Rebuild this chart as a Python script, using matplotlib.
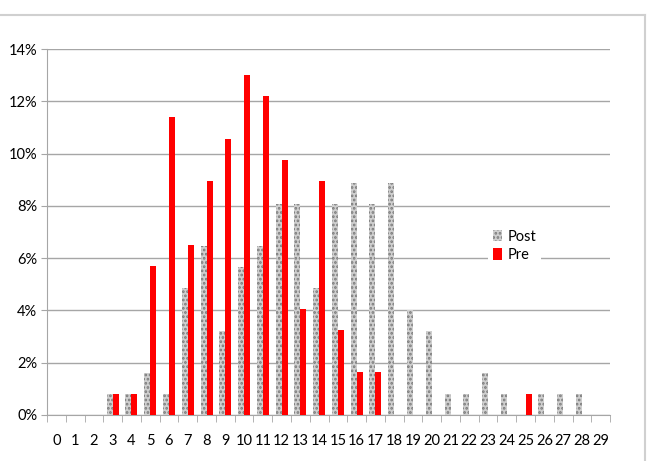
import numpy as np
import matplotlib
matplotlib.use("Agg")
from matplotlib import pyplot as plt
from matplotlib.ticker import PercentFormatter, FixedLocator
from matplotlib.lines import Line2D

# share of respondents per score, in percent
scores = list(range(30))
post = [0, 0, 0, 0.81, 0.81, 1.61, 0.81, 4.84, 6.45, 3.23, 5.65, 6.45, 8.06, 8.06, 4.84,
        8.06, 8.87, 8.06, 8.87, 4.03, 3.23, 0.81, 0.81, 1.61, 0.81, 0, 0.81, 0.81, 0.81, 0]
pre = [0, 0, 0, 0.81, 0.81, 5.69, 11.38, 6.50, 8.94, 10.57, 13.0, 12.20, 9.76, 4.07, 8.94,
       3.25, 1.63, 1.63, 0, 0, 0, 0, 0, 0, 0, 0.81, 0, 0, 0, 0]

plt.rcParams['font.family'] = ['Lato', 'DejaVu Sans']
plt.rcParams['hatch.linewidth'] = 1.3

fig = plt.figure(figsize=(6.49, 4.61), dpi=100)
ax = fig.add_axes([0.0724, 0.0998, 0.8676, 0.7939])

x = np.array(scores)
w = 0.32
ax.bar(x - w / 2, post, w, color='#cfcfcf', edgecolor='#7a7a7a', linewidth=0,
       hatch='....', label='Post', zorder=3)
ax.bar(x + w / 2, pre, w, color='#ff0000', linewidth=0, label='Pre', zorder=3)

ax.set_xlim(-0.5, 29.5)
ax.set_ylim(0, 14)
ax.yaxis.set_major_locator(FixedLocator([0, 2, 4, 6, 8, 10, 12, 14]))
ax.yaxis.set_major_formatter(PercentFormatter(decimals=0))
ax.grid(axis='y', color='#a6a6a6', linewidth=1, zorder=0)

ax.set_xticks(x)
ax.set_xticklabels([str(s) for s in scores])
ax.set_xticks(np.arange(-0.5, 30, 1), minor=True)
ax.tick_params(axis='x', which='major', length=0, pad=14, labelsize=10.5, colors='black')
ax.tick_params(axis='x', which='minor', length=5, direction='out', color='#a6a6a6')
ax.tick_params(axis='y', length=4, color='#a6a6a6', labelsize=10.5, pad=3)

for s in ['top', 'right']:
    ax.spines[s].set_visible(False)
ax.spines['left'].set_color('#a6a6a6')
ax.spines['bottom'].set_color('#a6a6a6')

leg = ax.legend(loc='upper left', bbox_to_anchor=(0.77, 0.54), frameon=True,
                fontsize=10.5, handlelength=0.6, handleheight=0.8, handletextpad=0.4,
                labelspacing=0.3, borderpad=0.35)
leg.get_frame().set_facecolor('white')
leg.get_frame().set_edgecolor('none')
leg.get_frame().set_alpha(1)

# chart border (Excel frame)
fig.add_artist(Line2D([0, 0.994], [0.967, 0.967], transform=fig.transFigure, color='#d0d0d0', linewidth=1.5))
fig.add_artist(Line2D([0.994, 0.994], [0.0, 0.967], transform=fig.transFigure, color='#d0d0d0', linewidth=1.5))

fig.savefig('out.png', dpi=100)
